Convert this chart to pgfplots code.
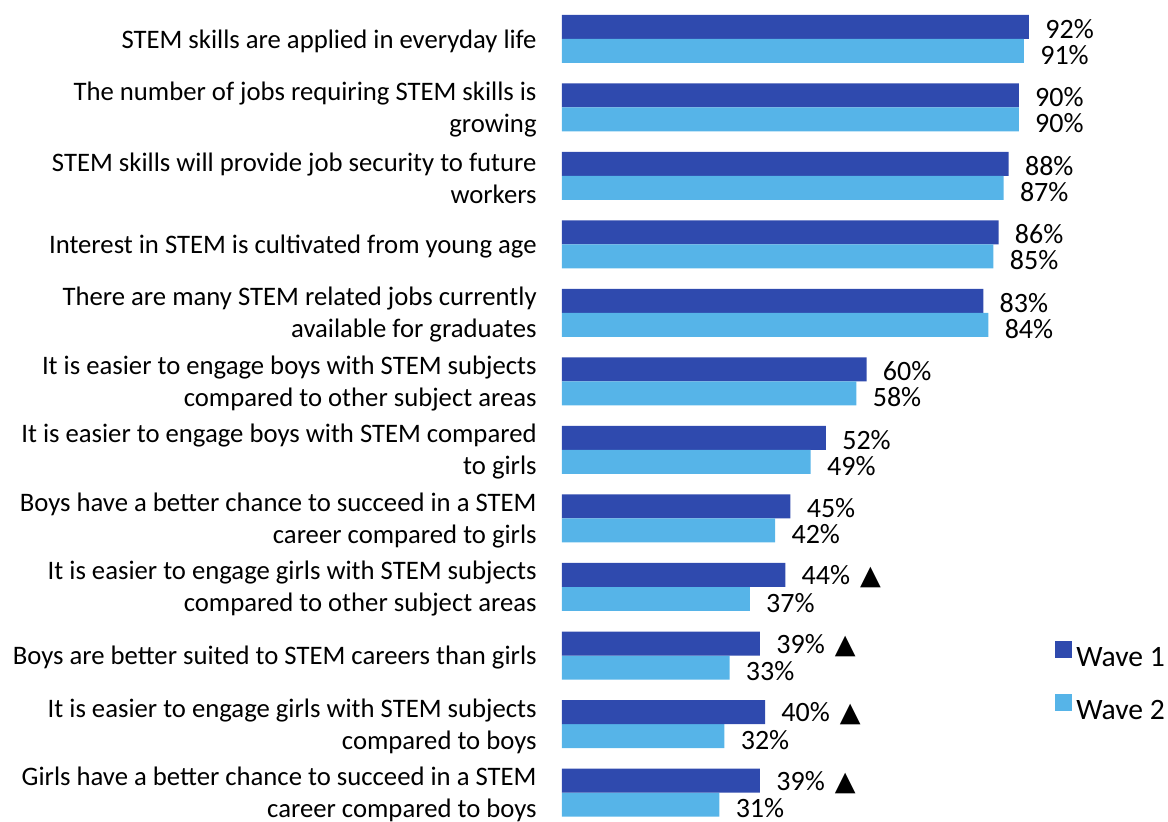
\documentclass[border=0pt]{standalone}
\usepackage{fontspec}
\setmainfont{Carlito}
\newfontfamily\djv{DejaVu Sans}
\usepackage{pgfplots}
\pgfplotsset{compat=1.18}
\definecolor{waveone}{HTML}{2F4AAE}
\definecolor{wavetwo}{HTML}{56B4E8}
\begin{document}
\begin{tikzpicture}
\begin{axis}[
  at={(281pt,0pt)}, anchor=south west,
  scale only axis, width=253.8pt, height=410.5pt,
  xmin=0, xmax=100, ymin=-0.416, ymax=11.569,
  xbar,
  /pgf/number format/assume math mode=true,
  axis line style={draw=none},
  xtick=\empty,
  ytick={0,...,11},
  ytick style={draw=none},
  major tick length=0pt,
  yticklabels={
    {Girls have a better chance to succeed in a STEM\\career compared to boys},
    {It is easier to engage girls with STEM subjects\\compared to boys},
    {Boys are better suited to STEM careers than girls},
    {It is easier to engage girls with STEM subjects\\compared to other subject areas},
    {Boys have a better chance to succeed in a STEM\\career compared to girls},
    {It is easier to engage boys with STEM compared\\to girls},
    {It is easier to engage boys with STEM subjects\\compared to other subject areas},
    {There are many STEM related jobs currently\\available for graduates},
    {Interest in STEM is cultivated from young age},
    {STEM skills will provide job security to future\\workers},
    {The number of jobs requiring STEM skills is\\growing},
    {STEM skills are applied in everyday life}
  },
  yticklabel style={font=\fontsize{13.35}{16}\selectfont, align=right, inner sep=0pt, anchor=east, xshift=-12.5pt, yshift=-1pt},
  point meta=x,
  every node near coord/.append style={font=\fontsize{14}{16}\selectfont, anchor=west, inner sep=0pt, xshift=8pt, text=black},
  legend image code/.code={\fill[#1,draw=none] (0pt,0pt) rectangle (8.5pt,8.5pt);},
  legend style={draw=none, fill=none, at={(0.9594,0.1669)}, anchor=west,
    font=\fontsize{14.8}{16}\selectfont, row sep=10.5pt,
    /tikz/every even column/.append style={column sep=6.5pt}},
  legend cell align=left,
  clip=false,
]
\addplot[fill=waveone, draw=none, bar width=12pt, bar shift=6pt,
  every node near coord/.append style={yshift=-1pt},
  nodes near coords={\pgfmathprintnumber{\pgfplotspointmeta}\%}]
  coordinates {(92,11) (90,10) (88,9) (86,8) (83,7) (60,6) (52,5) (45,4)};
\addlegendentry{Wave 1}
\addplot[fill=wavetwo, draw=none, bar width=12pt, bar shift=-6pt,
  every node near coord/.append style={yshift=-2pt},
  nodes near coords={\pgfmathprintnumber{\pgfplotspointmeta}\%}]
  coordinates {(91,11) (90,10) (87,9) (85,8) (84,7) (58,6) (49,5) (42,4) (37,3) (33,2) (32,1) (31,0)};
\addlegendentry{Wave 2}
\addplot[fill=waveone, draw=none, bar width=12pt, bar shift=6pt, forget plot,
  every node near coord/.append style={yshift=-1pt},
  nodes near coords={\pgfmathprintnumber{\pgfplotspointmeta}\%\hspace{5pt}{\djv\fontsize{13.5}{16}\selectfont ▲}}]
  coordinates {(44,3) (39,2) (40,1) (39,0)};
\end{axis}
\pgfresetboundingbox
\path[use as bounding box] (0,0) rectangle (584pt,410.5pt);
\end{tikzpicture}
\end{document}
